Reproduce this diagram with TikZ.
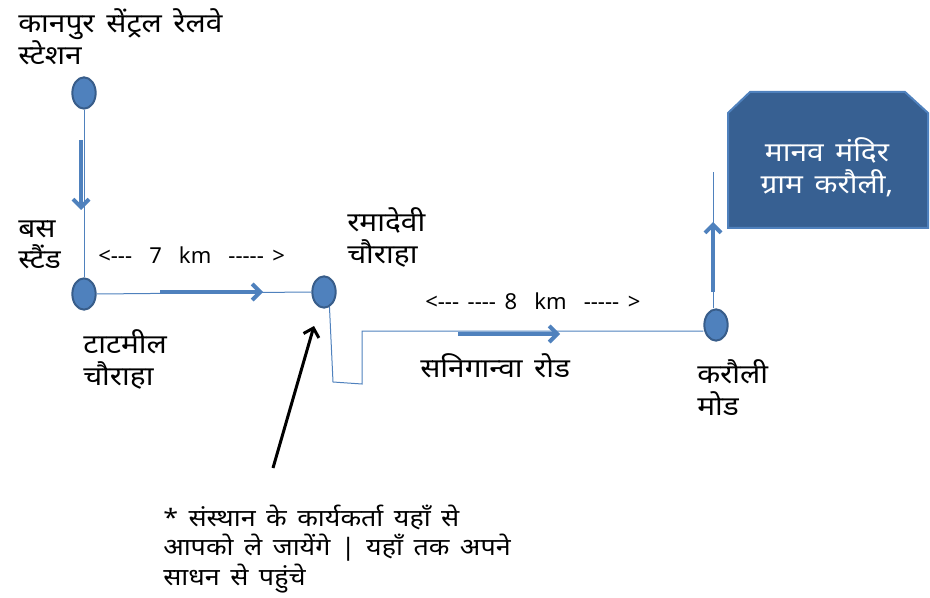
\documentclass[tikz,border=0pt]{standalone}
\usepackage{fontspec}
\setmainfont{Noto Sans}[Script=Devanagari,WordSpace=1.5,FakeStretch=1.12,Ligatures=TeXOff]
\newfontfamily\distfont{Noto Sans}[WordSpace=1.5,Ligatures=TeXOff]
\usetikzlibrary{arrows.meta,shapes.geometric}
\definecolor{stopblue}{HTML}{4F81BD}
\definecolor{stopedge}{HTML}{385D8A}
\definecolor{boxblue}{HTML}{376092}
\tikzset{
	stop/.style={ellipse, draw=stopedge, fill=stopblue, line width=1.5pt, minimum width=17.5pt, minimum height=23.5pt, inner sep=0pt},
	road/.style={draw=stopblue, line width=0.75pt},
	heading/.style={draw=stopblue, line width=3pt, -{Straight Barb[length=6pt,width=12pt]}},
	place/.style={anchor=base west, align=left, inner sep=0pt, font=\fontsize{20}{24}\selectfont},
	kmlabel/.style={anchor=base west, inner sep=0pt, font=\distfont\fontsize{16.5}{20}\selectfont},
}
\begin{document}
\begin{tikzpicture}[x=0.75pt, y=-0.75pt]
		%%%%% START %%%%%
		\useasboundingbox (0, 0) rectangle (930, 598);
		
		% destination box
		\draw[draw=stopblue, fill=boxblue, line width=1.5pt] (728, 228) -- (728, 113) -- (750, 92) -- (905, 92) -- (928, 113) -- (928, 228) -- cycle;
		\node[text=white, align=center, inner sep=0pt, font=\fontsize{20}{24}\selectfont] (mandir) at (827, 167) {मानव मंदिर\\ग्राम करौली,};
		
		% stops
		\node[stop] (station) at (84, 93) {};
		\node[stop] (busstand) at (84, 294) {};
		\node[stop] (ramadevi) at (324, 292) {};
		\node[stop] (karauli) at (716, 325) {};
		
		% labels
		\node[place] (stationname) at (18, 65) {कानपुर सेंट्रल रेलवे\\स्टेशन};
		\node[place] (busname) at (18, 269) {बस\\स्टैंड};
		\node[place] (tatmilname) at (83, 385) {टाटमील\\चौराहा};
		\node[place] (ramadeviname) at (347, 263) {रमादेवी\\चौराहा};
		\node[place] (karauliname) at (697, 415) {करौली\\मोड};
		\node[place] (roadname) at (420, 377) {सनिगान्वा रोड};
		\node[kmlabel] (firstkm) at (98, 264) {<--- \ 7 \ km \ ----- >};
		\node[kmlabel] (secondkm) at (425, 310) {<--- ---- 8 \ km \ ----- >};
		\node[place, font=\fontsize{18}{22}\selectfont] (note) at (163, 585) {* संस्थान के कार्यकर्ता यहाँ से\\आपको ले जायेंगे | यहाँ तक अपने\\साधन से पहुंचे};
		
		% roads
		\coordinate (loopa) at (333, 382);
		\coordinate (loopb) at (362, 384);
		\coordinate (roadstart) at (362, 331);
		\coordinate (mandirpin) at (713, 172);
		\draw[road] (station.south) -- (busstand.north);
		\draw[road] (busstand.east) -- (ramadevi.west);
		\draw[road] (ramadevi.-70) -- (loopa) -- (loopb) -- (roadstart) -- (karauli.west |- roadstart);
		\draw[road] (karauli.north -| mandirpin) -- (mandirpin);
		
		% direction arrows
		\draw[heading] (81, 140) -- (81, 210);
		\draw[heading] (160, 292) -- (263, 292);
		\draw[heading] (458, 334) -- (560, 334);
		\draw[heading] (713, 292) -- (713, 222);
		
		\coordinate (pointer) at (273, 468);
		\draw[line width=2.25pt, -{Straight Barb[length=6pt,width=12pt]}] (pointer) -- (314, 326);
		%%%%% END %%%%%
\end{tikzpicture}
\end{document}
